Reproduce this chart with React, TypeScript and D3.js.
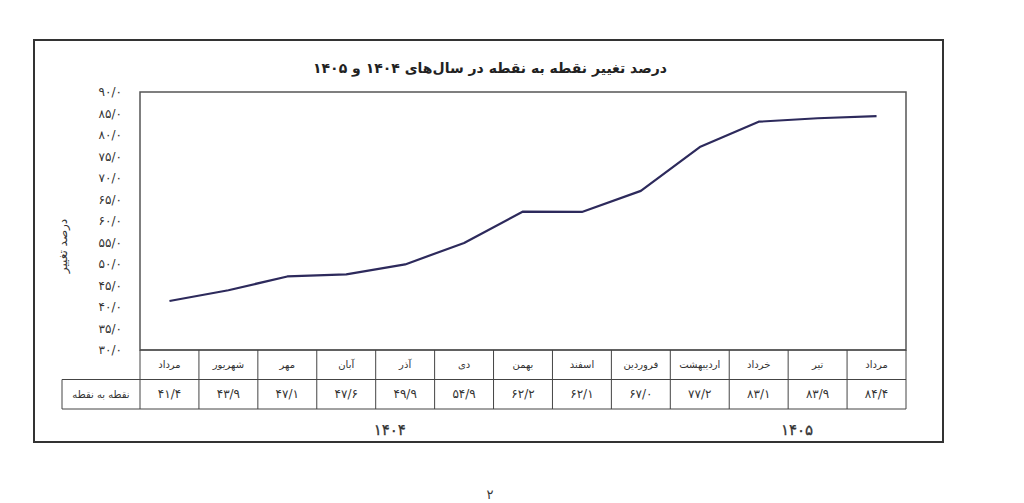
import React from 'react';
import * as d3 from 'd3';

// months (left to right, as in the table)
const months = ['مرداد', 'شهریور', 'مهر', 'آبان', 'آذر', 'دی', 'بهمن', 'اسفند', 'فروردین', 'اردیبهشت', 'خرداد', 'تیر', 'مرداد'];
const values = [41.4, 43.9, 47.1, 47.6, 49.9, 54.9, 62.2, 62.1, 67.0, 77.2, 83.1, 83.9, 84.4];
const yTicks = [30, 35, 40, 45, 50, 55, 60, 65, 70, 75, 80, 85, 90];
const years = [
  { label: '۱۴۰۴', from: 0, to: 7 },
  { label: '۱۴۰۵', from: 8, to: 12 },
];
const title = 'درصد تغییر نقطه به نقطه در سال‌های ۱۴۰۴ و ۱۴۰۵';
const yLabel = 'درصد تغییر';
const rowLabel = 'نقطه به نقطه';
const pageNo = '۲';

const FA = '۰۱۲۳۴۵۶۷۸۹';
const toFa = (s: string) => s.replace(/[0-9]/g, d => FA[+d]);
const fmt = (v: number) => toFa(v.toFixed(1).replace('.', '/'));

const W = 1024;
const H = 503;
const plot = { left: 140, right: 906, top: 92, bottom: 350 };
const frame = { left: 34, right: 943, top: 40, bottom: 442 };
const rowH = 29.5;
const font = '"DejaVu Sans", sans-serif';

export default function App() {
  const x = d3.scaleBand<number>()
    .domain(d3.range(months.length))
    .range([plot.left, plot.right]);
  const bw = x.bandwidth();
  const cx = (i: number) => (x(i) as number) + bw / 2;

  const y = d3.scaleLinear().domain([30, 90]).range([plot.bottom, plot.top]);

  const line = d3.line<number>()
    .x((_, i) => cx(i))
    .y(d => y(d));

  const row1 = plot.bottom;
  const row2 = row1 + rowH;
  const row3 = row2 + rowH;
  const labelLeft = 62;
  const grid = '#444';

  return (
    <>
      <style>{`body{margin:0;background:#fff}`}</style>
      <svg width={W} height={H} style={{ display: 'block', fontFamily: font }}>
        <rect x={0} y={0} width={W} height={H} fill="#fff" />
        {/* outer frame */}
        <rect x={frame.left} y={frame.top} width={frame.right - frame.left} height={frame.bottom - frame.top}
          fill="none" stroke="#333" strokeWidth={2} />

        <text x={490} y={73} textAnchor="middle" fontSize={14} fontWeight="bold" fill="#222" direction="rtl">
          {title}
        </text>

        {/* plot area */}
        <rect x={plot.left} y={plot.top} width={plot.right - plot.left} height={plot.bottom - plot.top}
          fill="none" stroke="#555" strokeWidth={1.5} />

        {yTicks.map(t => (
          <text key={t} x={122} y={y(t)} dy="0.35em" textAnchor="end" fontSize={12} fill="#333">
            {fmt(t)}
          </text>
        ))}

        <text transform={`translate(63,${(plot.top + plot.bottom) / 2 + 25}) rotate(-90)`} textAnchor="middle"
          fontSize={12} fill="#333" dy="0.35em">
          {yLabel}
        </text>

        <path d={line(values) || ''} fill="none" stroke="#2d2a5c" strokeWidth={2.2} strokeLinejoin="round" />

        {/* data table */}
        <g stroke={grid} strokeWidth={1}>
          <line x1={plot.left} x2={plot.right} y1={row1} y2={row1} />
          <line x1={labelLeft} x2={plot.right} y1={row2} y2={row2} />
          <line x1={labelLeft} x2={plot.right} y1={row3} y2={row3} />
          <line x1={labelLeft} x2={labelLeft} y1={row2} y2={row3} />
          {months.map((_, i) => (
            <line key={i} x1={x(i)} x2={x(i)} y1={row1} y2={row3} />
          ))}
          <line x1={plot.right} x2={plot.right} y1={row1} y2={row3} />
        </g>
        {months.map((m, i) => (
          <text key={'m' + i} x={cx(i)} y={(row1 + row2) / 2} dy="0.35em" textAnchor="middle" fontSize={10} fill="#333">
            {m}
          </text>
        ))}
        {values.map((v, i) => (
          <text key={'v' + i} x={cx(i)} y={(row2 + row3) / 2} dy="0.35em" textAnchor="middle" fontSize={12} fill="#333">
            {fmt(v)}
          </text>
        ))}
        <text x={(labelLeft + plot.left) / 2} y={(row2 + row3) / 2} dy="0.35em" textAnchor="middle" fontSize={10} fill="#333">
          {rowLabel}
        </text>

        {years.map((yr, k) => {
          const a = x(yr.from) as number;
          const b = (x(yr.to) as number) + bw;
          const mid = a + (b - a) * (k === 0 ? 0.53 : 0.63);
          return (
            <text key={k} x={mid} y={430} dy="0.35em" textAnchor="middle" fontSize={15} letterSpacing={5}
              fill="#333" stroke="#333" strokeWidth={0.3}>
              {yr.label}
            </text>
          );
        })}

        <text x={490} y={494} dy="0.35em" textAnchor="middle" fontSize={13} fill="#333">{pageNo}</text>
      </svg>
    </>
  );
}
